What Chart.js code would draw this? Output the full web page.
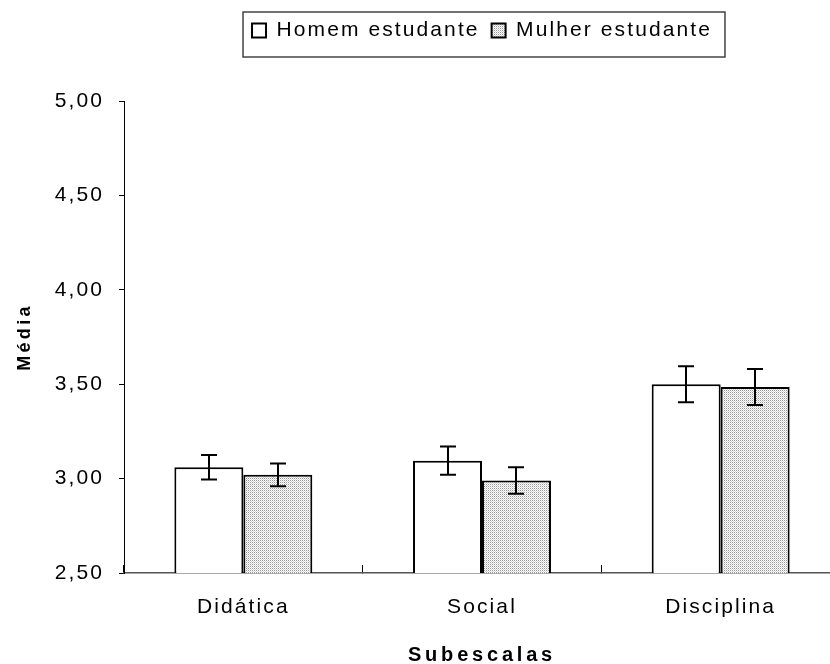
<!DOCTYPE html>
<html>
<head>
<meta charset="utf-8">
<script src="https://cdn.jsdelivr.net/npm/chart.js@4.4.1/dist/chart.umd.min.js"></script>
<style>
  html, body { margin: 0; padding: 0; background: #fff; overflow: hidden; }
</style>
</head>
<body>
<canvas id="chart" width="840" height="664"></canvas>
<script>
const categories = ['Didática', 'Social', 'Disciplina']
const homem = [3.06, 3.095, 3.50]
const homemErr = [0.065, 0.075, 0.095]
const mulher = [3.02, 2.99, 3.485]
const mulherErr = [0.06, 0.07, 0.095]
const yTicks = [2.5, 3.0, 3.5, 4.0, 4.5, 5.0]

// stippled grey fill like the original
function dotPattern() {
    const c = document.createElement('canvas')
    c.width = 2; c.height = 2
    const p = c.getContext('2d')
    p.fillStyle = '#fff'
    p.fillRect(0, 0, 2, 2)
    p.fillStyle = '#9a9a9a'
    p.fillRect(0, 0, 1, 1)
    p.fillStyle = '#d6d6d6'
    p.fillRect(1, 1, 1, 1)
    return p.createPattern(c, 'repeat')
}

// the original text is widely tracked, Chart.js has no option for that
const textSpacing = '2.1px'
const titleSpacing = { x: '3.8px', y: '3.3px' }
const spacing = {
    id: 'spacing',
    beforeUpdate(chart) {
        chart.ctx.letterSpacing = textSpacing
        const lg = chart.legend
        if (lg && !lg._patched) {
            const fit = lg.fit
            lg.fit = function () { fit.call(this); this.height = 93 }
            lg._patched = true
        }
    },
    beforeDraw(chart) {
        chart.ctx.letterSpacing = textSpacing
        Object.entries(chart.scales).forEach(([id, s]) => {
            if (s._patched) return
            const dt = s.drawTitle
            s.drawTitle = function () {
                const prev = this.ctx.letterSpacing
                this.ctx.letterSpacing = titleSpacing[id]
                dt.call(this)
                this.ctx.letterSpacing = prev
            }
            s._patched = true
        })
    }
}

const legendBox = {
    id: 'legendBox',
    afterDraw(chart) {
        const hb = chart.legend.legendHitBoxes
        if (!hb || !hb.length) return
        const first = hb[0], last = hb[hb.length - 1]
        const ctx = chart.ctx
        ctx.save()
        ctx.strokeStyle = '#444'
        ctx.lineWidth = 1.5
        ctx.strokeRect(first.left - 9, first.top - 8,
            last.left + last.width + 13 - (first.left - 9), first.height + 24)
        ctx.restore()
    }
}

const errorBars = {
    id: 'errorBars',
    afterDatasetsDraw(chart) {
        const ctx = chart.ctx
        const y = chart.scales.y
        ctx.save()
        ctx.strokeStyle = '#000'
        ctx.lineWidth = 2
        chart.data.datasets.forEach((ds, i) => {
            chart.getDatasetMeta(i).data.forEach((bar, j) => {
                const v = ds.data[j], e = ds.errors[j]
                const t = y.getPixelForValue(v + e), b = y.getPixelForValue(v - e)
                const x = Math.round(bar.x)
                ctx.beginPath()
                ctx.moveTo(x, t); ctx.lineTo(x, b)
                ctx.moveTo(x - 8, t); ctx.lineTo(x + 8, t)
                ctx.moveTo(x - 8, b); ctx.lineTo(x + 8, b)
                ctx.stroke()
            })
        })
        ctx.restore()
    }
}

Chart.defaults.font.family = 'Arial, "Liberation Sans", sans-serif'
Chart.defaults.color = '#000'

var ctx = document.getElementById('chart').getContext('2d')

var myChart = new Chart(ctx, {
    type: 'bar',
    data: {
        labels: categories,
        datasets: [{
            label: 'Homem estudante',
            data: homem,
            errors: homemErr,
            backgroundColor: '#fff',
            borderColor: '#000',
            borderWidth: 2,
            borderSkipped: false
        }, {
            label: 'Mulher estudante',
            data: mulher,
            errors: mulherErr,
            backgroundColor: dotPattern(),
            borderColor: '#000',
            borderWidth: 2,
            borderSkipped: false
        }]
    },
    options: {
        responsive: false,
        animation: false,
        layout: { padding: { top: 8, left: 0, right: 0, bottom: 0 } },
        datasets: { bar: { categoryPercentage: 0.578, barPercentage: 1 } },
        plugins: {
            tooltip: { enabled: false },
            legend: {
                position: 'top',
                fullSize: false,
                labels: {
                    boxWidth: 14,
                    boxHeight: 14,
                    padding: 12,
                    font: { size: 21 },
                    color: '#000'
                }
            }
        },
        scales: {
            x: {
                afterFit: s => { s.height = 91 },
                grid: { drawOnChartArea: false, tickLength: -8, color: '#000' },
                border: { color: '#555', width: 1.5 },
                ticks: { padding: 30, font: { size: 21 } },
                title: {
                    display: true,
                    text: 'Subescalas',
                    font: { size: 20, weight: 'bold', lineHeight: 1 },
                    padding: { top: 0, bottom: -1 }
                }
            },
            y: {
                min: yTicks[0],
                max: yTicks[yTicks.length - 1],
                afterFit: s => { s.width = 124 },
                afterBuildTicks: s => { s.ticks = yTicks.map(v => ({ value: v })) },
                grid: { drawOnChartArea: false, tickLength: 5, color: '#000' },
                border: { color: '#000', width: 1 },
                ticks: {
                    padding: 15,
                    font: { size: 21 },
                    callback: v => v.toFixed(2).replace('.', ',')
                },
                title: {
                    display: true,
                    text: 'Média',
                    font: { size: 18, weight: 'bold' },
                    padding: { top: 14, bottom: 0 }
                }
            }
        }
    },
    plugins: [spacing, legendBox, errorBars]
})
</script>
</body>
</html>
